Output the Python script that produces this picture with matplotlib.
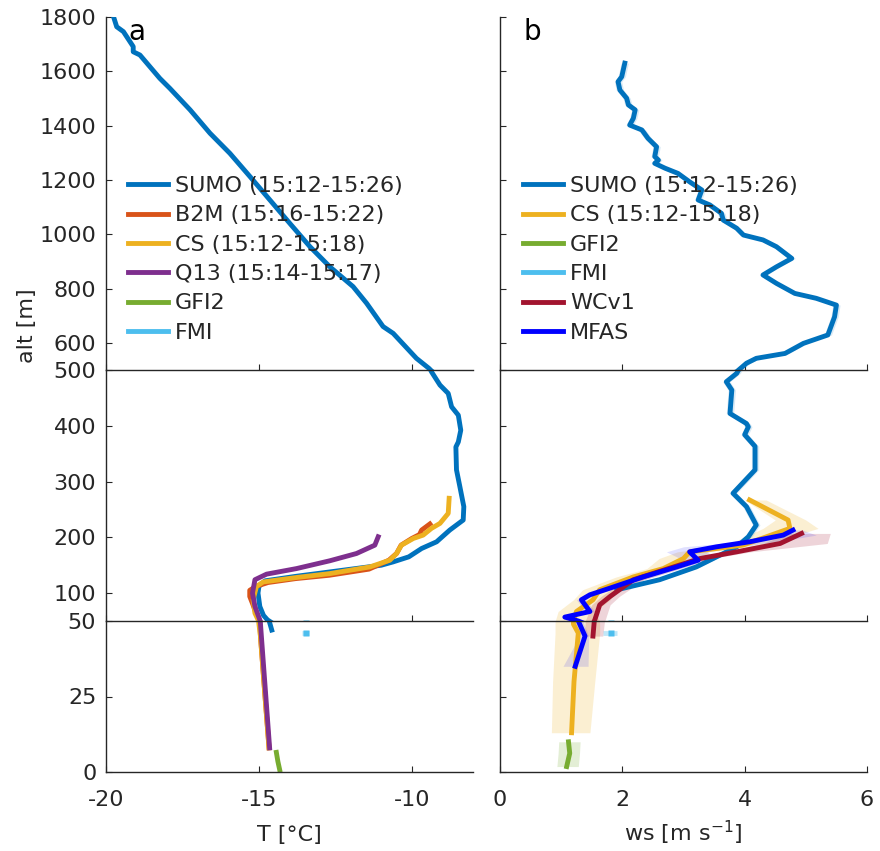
import numpy as np
import matplotlib.pyplot as plt
from matplotlib.lines import Line2D

# ---- colours (matlab defaults) ----
c_sumo = '#0072BD'
c_b2m = '#D95319'
c_cs = '#EDB120'
c_q13 = '#7E2F8E'
c_gfi = '#77AC30'
c_fmi = '#4DBEEE'
c_wc = '#A2142F'
c_mfas = '#0000FF'
txt = '#262626'

# ---- panel a: temperature ----
sumo_T_alt = [1796, 1764, 1746, 1727, 1691, 1672, 1660, 1574, 1537, 1458, 1372, 1298, 1212, 1126, 1040,
              954, 880, 807, 746, 660, 635, 543, 506, 497, 473, 458, 434, 419, 392, 371, 362, 321, 291,
              255, 231, 213, 192, 180, 165, 156, 150, 140, 130, 122, 112, 100, 76, 60, 52, 47]
sumo_T = [-19.74, -19.65, -19.43, -19.32, -19.11, -19.11, -18.89, -18.24, -17.91, -17.25, -16.60, -15.95,
          -15.29, -14.64, -13.99, -13.33, -12.68, -11.92, -11.48, -10.94, -10.61, -9.85, -9.44, -9.36,
          -9.08, -8.81, -8.70, -8.48, -8.40, -8.48, -8.56, -8.54, -8.43, -8.30, -8.32, -8.76, -9.19,
          -9.68, -10.10, -10.61, -11.0, -12.4, -13.8, -14.8, -15.0, -15.03, -14.97, -14.85, -14.72, -14.58]

b2m_alt = [224, 213, 205, 198, 186, 171, 159, 143, 132, 126, 119, 112, 105, 94, 80, 65, 50, 45, 25, 8]
b2m_T = [-9.41, -9.68, -9.75, -10.0, -10.35, -10.5, -10.75, -11.4, -12.7, -13.8, -14.7, -15.1, -15.3,
         -15.3, -15.2, -15.1, -14.97, -14.95, -14.8, -14.67]

cs_T_alt = [270, 243, 225, 216, 204, 198, 186, 171, 159, 147, 135, 128, 120, 112, 88, 64, 49, 45, 25, 8]
cs_T = [-8.78, -8.81, -9.08, -9.36, -9.63, -9.95, -10.34, -10.50, -10.72, -11.37, -12.68, -13.77, -14.86,
        -15.08, -15.19, -15.13, -15.0, -14.95, -14.8, -14.67]

q13_alt = [201, 186, 171, 158, 144, 134, 124, 100, 76, 52, 45, 8]
q13_T = [-11.10, -11.21, -11.81, -12.68, -13.77, -14.75, -15.13, -15.21, -15.13, -14.97, -14.92, -14.65]

gfi_T_alt = [6.5, 3.5, 0.7]
gfi_T = [-14.43, -14.38, -14.32]

fmi_alt = 46
fmi_T, fmi_T_lo, fmi_T_hi = -13.46, -13.58, -13.36

# ---- panel b: wind speed ----
sumo_ws_alt = [1630, 1580, 1562, 1531, 1501, 1476, 1458, 1427, 1402, 1384, 1353, 1322, 1286, 1273, 1261,
               1243, 1224, 1193, 1163, 1126, 1108, 1077, 1052, 1022, 997, 979, 954, 911, 880, 850, 819,
               782, 764, 739, 696, 629, 598, 561, 543, 525, 494, 479, 464, 422, 404, 398, 384, 363, 321,
               279, 255, 222, 201, 183, 147, 124, 106]
sumo_ws = [2.04, 1.99, 1.93, 1.96, 2.07, 2.10, 2.21, 2.18, 2.12, 2.32, 2.42, 2.56, 2.53, 2.59, 2.53, 2.70,
           2.91, 3.10, 3.30, 3.24, 3.43, 3.62, 3.65, 3.87, 3.98, 4.30, 4.52, 4.77, 4.52, 4.30, 4.52, 4.82,
           5.17, 5.50, 5.47, 5.36, 4.96, 4.66, 4.19, 4.03, 3.87, 3.70, 3.79, 3.76, 4.03, 4.06, 4.00, 4.17,
           4.17, 3.81, 4.03, 4.19, 4.06, 3.87, 3.21, 2.61, 1.91]

cs_ws_alt = [267, 231, 216, 186, 174, 162, 144, 129, 106, 88, 67, 49, 46, 30, 13]
cs_ws = [4.08, 4.71, 4.74, 3.97, 3.10, 3.00, 2.67, 2.18, 1.63, 1.52, 1.25, 1.20, 1.28, 1.21, 1.17]
cs_ws_lo = [4.0, 4.5, 4.3, 3.7, 2.9, 2.6, 2.4, 1.9, 1.35, 1.2, 0.95, 0.9, 0.9, 0.86, 0.84]
cs_ws_hi = [4.35, 5.0, 5.2, 4.3, 3.4, 3.3, 2.9, 2.45, 1.9, 1.8, 1.55, 1.63, 1.63, 1.55, 1.47]

wc_alt = [207, 189, 174, 162, 141, 124, 94, 79, 52, 45]
wc_ws = [4.93, 4.58, 3.87, 3.27, 2.67, 2.18, 1.80, 1.63, 1.55, 1.52]
wc_lo = [4.7, 4.3, 3.7, 3.1, 2.5, 2.05, 1.65, 1.5, 1.4, 1.38]
wc_hi = [5.4, 5.35, 4.1, 3.45, 2.85, 2.35, 1.95, 1.8, 1.72, 1.68]

mfas_alt = [213, 204, 192, 183, 174, 159, 147, 129, 109, 97, 88, 67, 57, 50, 45, 35]
mfas_ws = [4.79, 4.63, 4.08, 3.54, 3.10, 3.24, 2.89, 2.34, 1.80, 1.47, 1.33, 1.47, 1.06, 1.28, 1.39, 1.23]
mfas_lo = [4.65, 4.4, 3.9, 3.0, 2.72, 3.0, 2.7, 2.2, 1.7, 1.38, 1.25, 1.4, 1.0, 1.2, 1.3, 1.03]
mfas_hi = [4.95, 5.17, 4.5, 3.9, 3.4, 3.5, 3.05, 2.5, 1.9, 1.55, 1.4, 1.55, 1.12, 1.35, 1.45, 1.44]

gfi_ws_alt = [10, 6.2, 1.8]
gfi_ws = [1.12, 1.14, 1.09]
gfi_ws_lo = [0.96, 0.95, 0.93]
gfi_ws_hi = [1.31, 1.30, 1.28]

fmi_ws, fmi_ws_lo, fmi_ws_hi = 1.82, 1.69, 1.91

# ---- layout: three stacked y sections (0-50, 50-500, 500-1800) ----
W, H = 880, 851
sections = [(0, 50, 621, 772, [0, 25, 50]),
            (50, 500, 370, 621, [100, 200, 300, 400, 500]),
            (500, 1800, 17, 370, [600, 800, 1000, 1200, 1400, 1600, 1800])]
LW = 3.5
FS = 16

plt.rcParams['font.family'] = 'DejaVu Sans'
plt.rcParams['axes.unicode_minus'] = False
fig = plt.figure(figsize=(8.8, 8.51), dpi=100)


def make_panel(px0, px1, xlim, xticks, ylabels):
    axs = []
    for i, (lo, hi, ptop, pbot, yt) in enumerate(sections):
        ax = fig.add_axes([px0 / W, 1 - pbot / H, (px1 - px0) / W, (pbot - ptop) / H])
        ax.set_xlim(*xlim)
        ax.set_ylim(lo, hi)
        ax.set_xticks(xticks)
        ax.set_yticks(yt)
        for s in ['top', 'right']:
            ax.spines[s].set_visible(False)
        for s in ['left', 'bottom']:
            ax.spines[s].set_color(txt)
            ax.spines[s].set_linewidth(1.0)
        ax.tick_params(direction='in', length=4, width=0.8, color=txt, labelcolor=txt, labelsize=FS)
        ax.tick_params(axis='x', pad=13)
        ax.tick_params(axis='y', pad=7)
        if i > 0:
            ax.tick_params(axis='x', labelbottom=False)
        if not ylabels:
            ax.tick_params(axis='y', labelleft=False)
        ax.patch.set_alpha(0)
        axs.append(ax)
    return axs


axa = make_panel(106, 473, (-20, -8), [-20, -15, -10], True)
axb = make_panel(500, 867, (0, 6), [0, 2, 4, 6], False)

for ax in axa:
    ax.plot(sumo_T, sumo_T_alt, color=c_sumo, lw=LW)
    ax.plot(b2m_T, b2m_alt, color=c_b2m, lw=LW)
    ax.plot(cs_T, cs_T_alt, color=c_cs, lw=LW)
    ax.plot(q13_T, q13_alt, color=c_q13, lw=LW)
    ax.plot(gfi_T, gfi_T_alt, color=c_gfi, lw=LW)
    ax.plot([fmi_T_lo, fmi_T_hi], [fmi_alt, fmi_alt], color=c_fmi, lw=LW, alpha=0.35, solid_capstyle='butt')
    ax.plot([fmi_T], [fmi_alt], 's', color=c_fmi, ms=4.5, mec='none')

for ax in axb:
    ax.fill_betweenx(sumo_ws_alt, np.array(sumo_ws) - 0.06, np.array(sumo_ws) + 0.06,
                     color=c_sumo, alpha=0.15, lw=0)
    ax.fill_betweenx(cs_ws_alt, cs_ws_lo, cs_ws_hi, color=c_cs, alpha=0.2, lw=0)
    ax.fill_betweenx(gfi_ws_alt, gfi_ws_lo, gfi_ws_hi, color=c_gfi, alpha=0.2, lw=0)
    ax.fill_betweenx(wc_alt, wc_lo, wc_hi, color=c_wc, alpha=0.18, lw=0)
    ax.fill_betweenx(mfas_alt, mfas_lo, mfas_hi, color=c_mfas, alpha=0.12, lw=0)
    ax.plot(sumo_ws, sumo_ws_alt, color=c_sumo, lw=LW)
    ax.plot(cs_ws, cs_ws_alt, color=c_cs, lw=LW)
    ax.plot(gfi_ws, gfi_ws_alt, color=c_gfi, lw=LW)
    ax.plot([fmi_ws_lo, fmi_ws_hi], [fmi_alt, fmi_alt], color=c_fmi, lw=LW, alpha=0.35, solid_capstyle='butt')
    ax.plot([fmi_ws], [fmi_alt], 's', color=c_fmi, ms=4.5, mec='none')
    ax.plot(wc_ws, wc_alt, color=c_wc, lw=LW)
    ax.plot(mfas_ws, mfas_alt, color=c_mfas, lw=LW)

fig.text(289.5 / W, 1 - 841 / H, 'T [°C]', ha='center', va='baseline', fontsize=FS, color=txt)
fig.text(683.5 / W, 1 - 841 / H, 'ws [m s$^{-1}$]', ha='center', va='baseline', fontsize=FS, color=txt)
fig.text(27 / W, 1 - 326 / H, 'alt [m]', rotation=90, ha='center', va='center', fontsize=FS, color=txt)

fig.text(128 / W, 1 - 40 / H, 'a', fontsize=20, color='black', va='baseline')
fig.text(523 / W, 1 - 40 / H, 'b', fontsize=20, color='black', va='baseline')

leg_a = [('SUMO (15:12-15:26)', c_sumo), ('B2M (15:16-15:22)', c_b2m), ('CS (15:12-15:18)', c_cs),
         ('Q13 (15:14-15:17)', c_q13), ('GFI2', c_gfi), ('FMI', c_fmi)]
leg_b = [('SUMO (15:12-15:26)', c_sumo), ('CS (15:12-15:18)', c_cs), ('GFI2', c_gfi),
         ('FMI', c_fmi), ('WCv1', c_wc), ('MFAS', c_mfas)]

for ax, entries, px in [(axa[2], leg_a, 128), (axb[2], leg_b, 523)]:
    handles = [Line2D([], [], color=c, lw=LW) for _, c in entries]
    lg = ax.legend(handles, [n for n, _ in entries], loc='upper left',
                   bbox_to_anchor=(px / W, 1 - 176 / H), bbox_transform=fig.transFigure,
                   frameon=False, borderpad=0, borderaxespad=0, handlelength=1.8,
                   handletextpad=0.32, labelspacing=0.42, fontsize=FS)
    for t in lg.get_texts():
        t.set_color(txt)

fig.savefig('out.png', dpi=100)
